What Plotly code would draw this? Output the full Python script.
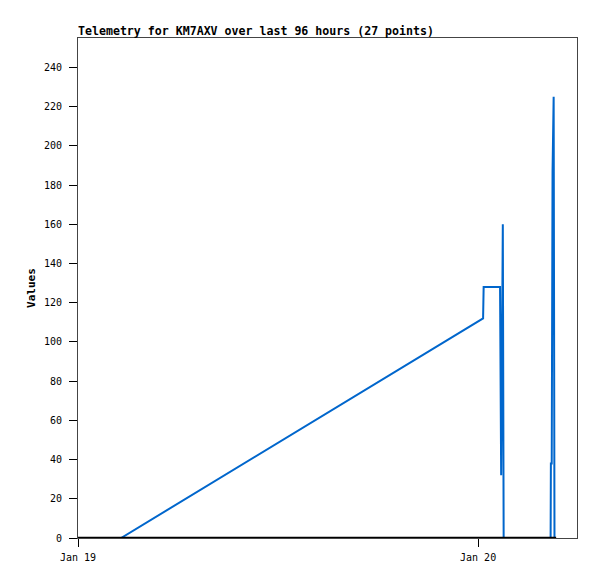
import plotly.graph_objects as go

# ── Data ──────────────────────────────────────────────────────────────────────

blue_times = [
    "2024-01-19 00:00", "2024-01-19 02:35", "2024-01-20 00:18", "2024-01-20 00:20",
    "2024-01-20 01:19", "2024-01-20 01:21", "2024-01-20 01:23", "2024-01-20 01:29",
    "2024-01-20 01:31", "2024-01-20 01:32", "2024-01-20 04:21", "2024-01-20 04:22",
    "2024-01-20 04:25", "2024-01-20 04:26", "2024-01-20 04:28", "2024-01-20 04:32",
    "2024-01-20 04:34", "2024-01-20 04:35",
]
blue_values = [0, 0, 112, 128, 128, 96, 32, 160, 80, 0, 0, 38, 38, 112, 187, 225, 112, 0]

black_times = ["2024-01-19 00:00", "2024-01-20 04:41"]
black_values = [0, 0]

x_range = ["2024-01-19 00:00", "2024-01-20 05:56"]
y_range = [0, 255]

TITLE = "Telemetry for KM7AXV over last 96 hours (27 points)"

# ── Figure ────────────────────────────────────────────────────────────────────
# the page body adds an 8px offset, so margins are trimmed by 8px on top/left

fig = go.Figure()
fig.add_trace(go.Scatter(
    x=blue_times, y=blue_values, mode="lines",
    line=dict(color="#0066cc", width=2), showlegend=False,
))
fig.add_trace(go.Scatter(
    x=black_times, y=black_values, mode="lines",
    line=dict(color="#000000", width=2.5), showlegend=False,
))

fig.update_layout(
    width=597, height=579,
    paper_bgcolor="white", plot_bgcolor="white",
    font=dict(family="DejaVu Sans Mono", size=10, color="#000000"),
    title=dict(text="<b>" + TITLE + "</b>", x=70 / 597, xanchor="left",
               y=1 - 23 / 579, yanchor="middle",
               font=dict(family="DejaVu Sans Mono", size=11.6, color="#000000")),
    margin=dict(l=70, r=28, t=30, b=49),
    xaxis=dict(type="date", range=x_range, dtick=86400000, tick0="2024-01-19",
               tickformat="%b %d", showgrid=False, zeroline=False,
               ticks="outside", ticklen=8, tickcolor="#000000",
               ticklabelstandoff=2, automargin=False,
               showline=True, linecolor="#444444", linewidth=1, mirror=True),
    yaxis=dict(range=y_range, dtick=20, showgrid=False, zeroline=False,
               ticks="outside", ticklen=8, tickcolor="#000000",
               ticklabelstandoff=5, automargin=False,
               showline=True, linecolor="#444444", linewidth=1, mirror=True,
               title=dict(text="<b>Values</b>", standoff=6,
                          font=dict(family="DejaVu Sans Mono", size=11))),
)

fig.write_html("out.html")
